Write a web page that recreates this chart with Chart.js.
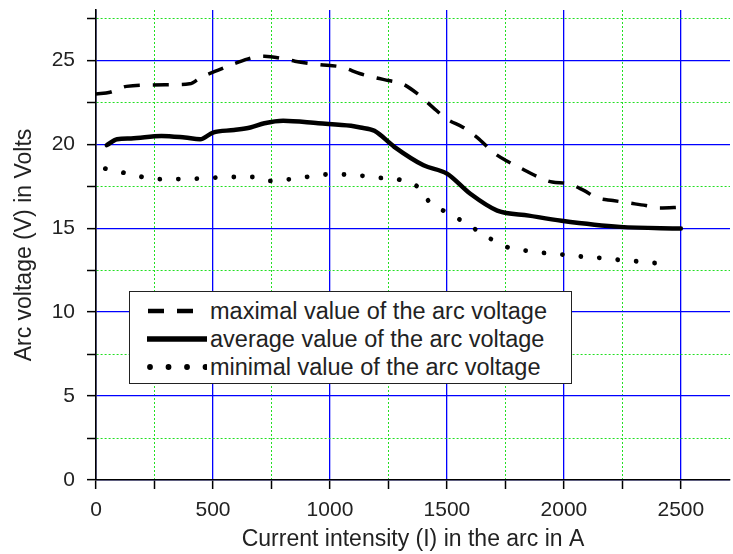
<!DOCTYPE html>
<html>
<head>
<meta charset="utf-8">
<script src="https://cdn.jsdelivr.net/npm/chart.js@4/dist/chart.umd.min.js"></script>
<style>
  html, body { margin: 0; padding: 0; background: #fff; }
  #wrap { position: relative; width: 733px; height: 554px; }
  #legend {
    position: absolute; left: 129px; top: 291px; width: 443px; height: 93px;
    border: 1.5px solid #222; background: #fff; box-sizing: border-box;
    font-family: "Liberation Sans", Arial, sans-serif; font-size: 23.5px; color: #222;
    padding-top: 5px;
  }
  .row { display: flex; align-items: center; height: 28px; }
  .row svg { margin-left: 17px; margin-right: 3px; }
</style>
</head>
<body>
<div id="wrap">
  <canvas id="c" width="733" height="554"></canvas>
  <div id="legend"></div>
</div>
<script>
// ---- data ----
const maxCurrent = [0, 60, 130, 320, 400, 450, 520, 600, 680, 720, 800, 850, 950, 1050, 1130, 1200, 1250, 1310, 1375, 1440, 1500, 1570, 1630, 1700, 1750, 1820, 1890, 1950, 2020, 2085, 2145, 2210, 2280, 2350, 2410, 2500];
const maxVoltage = [23.0, 23.1, 23.45, 23.55, 23.6, 24.0, 24.4, 24.85, 25.2, 25.25, 25.1, 24.95, 24.75, 24.6, 24.2, 23.95, 23.8, 23.6, 23.0, 22.2, 21.5, 21.0, 20.4, 19.5, 19.05, 18.55, 18.05, 17.75, 17.65, 17.25, 16.8, 16.65, 16.5, 16.35, 16.2, 16.25];

const avgCurrent = [46, 90, 150, 280, 380, 445, 500, 590, 660, 720, 800, 950, 1090, 1130, 1190, 1275, 1400, 1500, 1600, 1715, 1850, 1990, 2240, 2500];
const avgVoltage = [19.95, 20.3, 20.35, 20.5, 20.4, 20.3, 20.7, 20.85, 21.0, 21.25, 21.4, 21.25, 21.1, 21.0, 20.8, 19.85, 18.75, 18.25, 17.05, 16.05, 15.75, 15.45, 15.08, 14.98];

const minCurrent = [40, 120, 200, 280, 430, 590, 670, 745, 830, 900, 980, 1060, 1140, 1215, 1295, 1370, 1430, 1510, 1590, 1665, 1745, 1820, 1900, 1980, 2060, 2140, 2215, 2295, 2370, 2460];
const minVoltage = [18.55, 18.3, 18.05, 17.92, 17.95, 18.05, 18.05, 17.82, 17.92, 18.05, 18.2, 18.2, 18.12, 18.0, 17.9, 17.52, 16.5, 15.87, 15.22, 14.55, 13.93, 13.7, 13.55, 13.45, 13.33, 13.25, 13.14, 13.05, 12.95, 12.84];

const seriesLabels = ["maximal value of the arc voltage", "average value of the arc voltage", "minimal value of the arc voltage"];
const xTitle = "Current intensity (I) in the arc in A";
const yTitle = "Arc voltage (V) in Volts";
const xMajorTicks = [0, 500, 1000, 1500, 2000, 2500];
const xGridTicks = [0, 250, 500, 750, 1000, 1250, 1500, 1750, 2000, 2250, 2500];
const yMajorTicks = [0, 5, 10, 15, 20, 25];

function pts(xs, ys) { return xs.map((x, i) => ({x: x, y: ys[i]})); }

const FONT = '"Liberation Sans", Arial, sans-serif';
const styles = [
  {borderWidth: 3.5, borderDash: [16, 13], borderCapStyle: 'butt'},
  {borderWidth: 4.5, borderDash: [], borderCapStyle: 'round'},
  {borderWidth: 4.8, borderDash: [0.01, 18.5], borderCapStyle: 'round'}
];

const datasets = [pts(maxCurrent, maxVoltage), pts(avgCurrent, avgVoltage), pts(minCurrent, minVoltage)].map((d, i) => Object.assign({
  label: seriesLabels[i],
  data: d,
  borderColor: '#000',
  backgroundColor: '#000',
  pointRadius: 0,
  fill: false,
  tension: 0.3,
  cubicInterpolationMode: 'monotone'
}, styles[i]));

const isMajor = (v, arr) => arr.includes(Math.round(v * 1000) / 1000);

function gridColor(arr) {
  return ctx => (ctx.tick && isMajor(ctx.tick.value, arr)) ? '#0000ff' : '#22e022';
}
function gridDash(arr) {
  return ctx => (ctx.tick && !isMajor(ctx.tick.value, arr)) ? [2, 2] : [];
}

const chart = new Chart(document.getElementById('c'), {
  type: 'line',
  data: { datasets: datasets },
  options: {
    responsive: false,
    animation: false,
    devicePixelRatio: 1,
    layout: { padding: { left: 0, top: 10, right: 3, bottom: 0 } },
    plugins: { legend: { display: false }, tooltip: { enabled: false } },
    scales: {
      x: {
        type: 'linear',
        min: 0, max: 2710,
        afterBuildTicks: s => { s.ticks = xGridTicks.map(v => ({ value: v })); },
        afterFit: s => { s.height = 74; s.paddingLeft = 0; s.paddingRight = 0; },
        ticks: {
          autoSkip: false, maxRotation: 0,
          color: '#222', padding: 9,
          font: { family: FONT, size: 21 },
          callback: v => isMajor(v, xMajorTicks) ? String(v) : ''
        },
        grid: {
          color: gridColor(xMajorTicks),
          lineWidth: ctx => (ctx.tick && isMajor(ctx.tick.value, xMajorTicks)) ? 1.3 : 1,
          tickColor: '#000', tickLength: 9, tickWidth: 1.5
        },
        border: { display: true, color: '#000', width: 1.6, dash: gridDash(xMajorTicks) },
        title: { display: true, text: xTitle, color: '#222', font: { family: FONT, size: 23 }, padding: { top: 0, bottom: 1 } }
      },
      y: {
        type: 'linear',
        min: 0, max: 28,
        afterFit: s => { s.width = 96; s.paddingTop = 0; s.paddingBottom = 0; },
        ticks: {
          stepSize: 2.5, includeBounds: false, autoSkip: false, maxTicksLimit: 100,
          color: '#222', padding: 12,
          font: { family: FONT, size: 21 },
          callback: v => isMajor(v, yMajorTicks) ? String(v) : ''
        },
        grid: {
          color: gridColor(yMajorTicks),
          lineWidth: ctx => (ctx.tick && isMajor(ctx.tick.value, yMajorTicks)) ? 1.3 : 1,
          tickColor: '#000', tickLength: 9, tickWidth: 1.5
        },
        border: { display: true, color: '#000', width: 1.6, dash: gridDash(yMajorTicks) },
        title: { display: true, text: yTitle, color: '#222', font: { family: FONT, size: 23 }, padding: { top: 11, bottom: 0 } }
      }
    }
  }
});

// HTML legend built from the chart's datasets
(function buildLegend() {
  const box = document.getElementById('legend');
  chart.data.datasets.forEach(ds => {
    const row = document.createElement('div');
    row.className = 'row';
    const ns = 'http://www.w3.org/2000/svg';
    const svg = document.createElementNS(ns, 'svg');
    svg.setAttribute('width', '60'); svg.setAttribute('height', '20');
    const line = document.createElementNS(ns, 'line');
    const dotted = ds.borderDash.length && ds.borderDash[0] < 1;
    line.setAttribute('x1', dotted ? 3 : 1);
    line.setAttribute('x2', '59'); line.setAttribute('y1', '10'); line.setAttribute('y2', '10');
    line.setAttribute('stroke', '#000');
    line.setAttribute('stroke-width', ds.borderWidth + 1);
    line.setAttribute('stroke-linecap', ds.borderCapStyle === 'round' ? 'round' : 'butt');
    if (ds.borderDash.length) line.setAttribute('stroke-dasharray', ds.borderDash.join(' '));
    svg.appendChild(line);
    const span = document.createElement('span');
    span.textContent = ds.label;
    row.appendChild(svg); row.appendChild(span);
    box.appendChild(row);
  });
})();
</script>
</body>
</html>
